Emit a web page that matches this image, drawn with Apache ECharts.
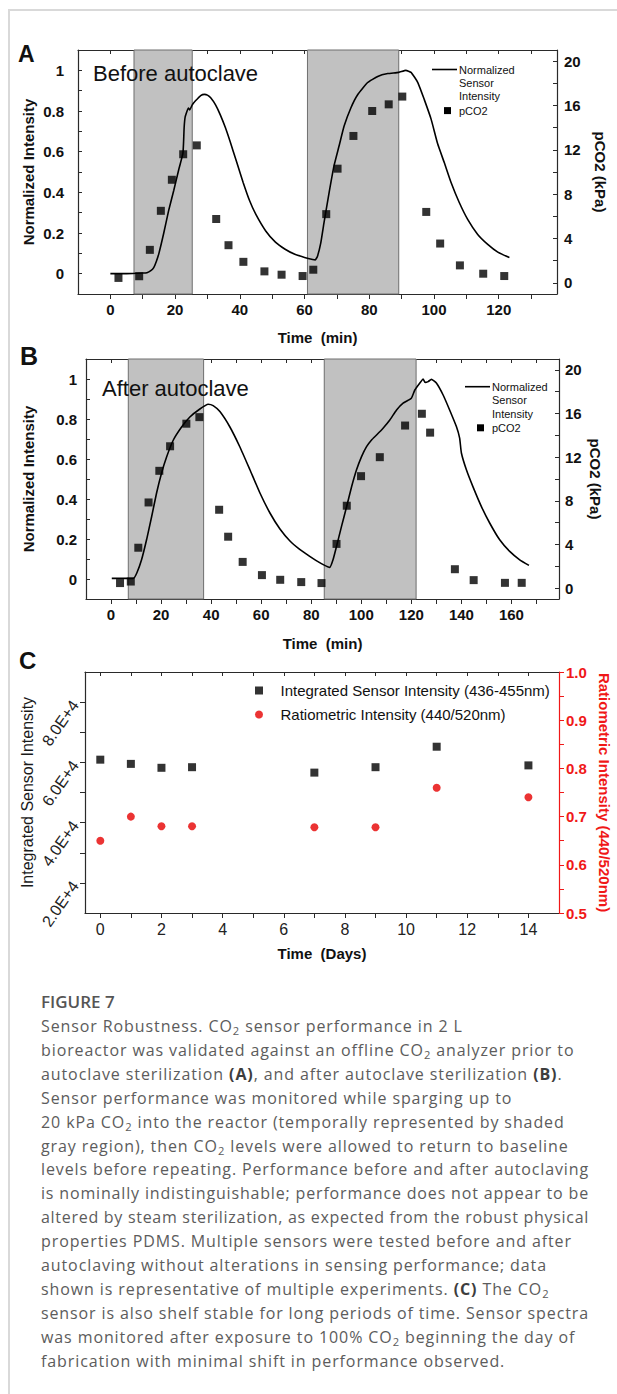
<!DOCTYPE html>
<html><head><meta charset="utf-8">
<script src="https://cdn.jsdelivr.net/npm/echarts@6/dist/echarts.min.js"></script>
<style>
html,body{margin:0;padding:0;background:#fff;}
body{width:617px;height:1394px;position:relative;overflow:hidden;}
#frameTop{position:absolute;left:8px;top:9px;width:609px;height:0;border-top:2px solid #d9d9d9;}
#frameLeft{position:absolute;left:8px;top:9px;width:0;height:1385px;border-left:2px solid #d9d9d9;}
#chart{position:absolute;left:0;top:0;width:617px;height:985px;}
#fig{position:absolute;left:41px;top:992px;font-family:'Open Sans';font-size:17px;font-weight:600;color:#555;line-height:20px;white-space:nowrap;}
#cap{position:absolute;left:41px;top:1015px;font-family:'Open Sans';font-size:16px;color:#5c5c5c;line-height:23.9px;}
#cap div{white-space:nowrap;display:block;}
#cap span.ln{display:inline-block;white-space:nowrap;}
sub{font-size:0.7em;vertical-align:-0.3em;line-height:0;}
b{color:#3d3d3d;font-weight:700;}
</style></head>
<body>
<div id="frameTop"></div><div id="frameLeft"></div>
<div id="chart"></div>
<div id="fig">FIGURE 7</div>
<div id="cap">
<div><span class="ln" data-w="437">Sensor Robustness. CO<sub>2</sub> sensor performance in 2 L</span></div>
<div><span class="ln" data-w="546">bioreactor was validated against an offline CO<sub>2</sub> analyzer prior to</span></div>
<div><span class="ln" data-w="522">autoclave sterilization <b>(A)</b>, and after autoclave sterilization <b>(B)</b>.</span></div>
<div><span class="ln" data-w="486">Sensor performance was monitored while sparging up to</span></div>
<div><span class="ln" data-w="541">20 kPa CO<sub>2</sub> into the reactor (temporally represented by shaded</span></div>
<div><span class="ln" data-w="546">gray region), then CO<sub>2</sub> levels were allowed to return to baseline</span></div>
<div><span class="ln" data-w="548">levels before repeating. Performance before and after autoclaving</span></div>
<div><span class="ln" data-w="548">is nominally indistinguishable; performance does not appear to be</span></div>
<div><span class="ln" data-w="548">altered by steam sterilization, as expected from the robust physical</span></div>
<div><span class="ln" data-w="539">properties PDMS. Multiple sensors were tested before and after</span></div>
<div><span class="ln" data-w="515">autoclaving without alterations in sensing performance; data</span></div>
<div><span class="ln" data-w="524">shown is representative of multiple experiments. <b>(C)</b> The CO<sub>2</sub></span></div>
<div><span class="ln" data-w="548">sensor is also shelf stable for long periods of time. Sensor spectra</span></div>
<div><span class="ln" data-w="548">was monitored after exposure to 100% CO<sub>2</sub> beginning the day of</span></div>
<div><span class="ln" data-w="471">fabrication with minimal shift in performance observed.</span></div>
</div>
<script>
// ---------- Panel A (before autoclave) ----------
const timeA_line = [0,5,10,11.3,12.5,13.4,14.2,15,16.5,18,19.6,21.1,22.4,22.6,22.8,23.1,23.7,24.1,24.5,25.3,26.3,27.9,29.1,30,31,32.5,34,35.5,37,39,41,43,45,48,51,54,57,60,62.5,63.3,64,65,66,67.6,69.1,70.7,72.2,74.3,76.4,79.5,82.6,85.7,89.1,91.3,92.9,95,97,99.1,101.1,103.2,105.3,107.8,110.4,113.5,116.6,119.7,123.3];
const intensityA = [0,0,0.003,0.005,0.015,0.03,0.06,0.10,0.20,0.31,0.41,0.51,0.59,0.64,0.72,0.77,0.80,0.815,0.805,0.83,0.85,0.876,0.882,0.878,0.865,0.83,0.78,0.72,0.65,0.55,0.45,0.36,0.29,0.21,0.155,0.12,0.095,0.08,0.07,0.068,0.086,0.15,0.25,0.40,0.53,0.63,0.725,0.815,0.88,0.94,0.97,0.984,0.99,1.0,0.99,0.94,0.856,0.76,0.64,0.545,0.447,0.35,0.267,0.193,0.144,0.106,0.079];
const timeA_pco2 = [2.5,8.9,12.2,15.6,19.0,22.5,26.7,32.7,36.5,41.1,47.6,52.9,59.4,62.7,66.7,70.2,75.1,80.9,86.0,90.2,97.6,101.9,108.0,115.2,121.7];
const pco2A = [0.45,0.6,2.98,6.5,9.3,11.6,12.4,5.76,3.4,1.9,1.04,0.74,0.62,1.19,6.2,10.3,13.25,15.5,16.1,16.8,6.4,3.55,1.58,0.83,0.62];
const spargeA = [[7.3,25.3],[60.9,89.1]];
const timeTicksA = [0,20,40,60,80,100,120];
const timeMinorA = [0,10,20,30,40,50,60,70,80,90,100,110,120,130];

// ---------- Panel B (after autoclave) ----------
const timeB_line = [0.3,5,8.9,10.3,12.2,14.2,16.2,18.2,20.2,22.2,24.9,28.2,31.5,35.5,38.8,40.8,43.5,47.5,51.5,55.5,59.5,63.5,67.5,71.5,75.4,79.4,82,84.8,87.4,88.7,90.1,92.1,94.1,96.1,98.1,100.1,102.1,104.1,106.1,108.7,111.4,114.1,116.7,120,121.4,123.4,124.7,125.5,126.7,128,130,132.7,135.3,138,139.3,140,142,144.6,148,151.3,155.3,159.3,163.3,167];
const intensityB = [0.003,0.003,0.003,0.03,0.096,0.196,0.31,0.43,0.53,0.61,0.695,0.76,0.81,0.85,0.874,0.867,0.837,0.76,0.66,0.546,0.43,0.33,0.25,0.19,0.148,0.113,0.092,0.072,0.058,0.096,0.163,0.263,0.36,0.46,0.546,0.612,0.662,0.695,0.72,0.754,0.795,0.845,0.879,0.904,0.945,0.98,1.0,0.983,0.987,0.998,0.98,0.92,0.845,0.762,0.704,0.63,0.546,0.462,0.362,0.28,0.196,0.138,0.096,0.068];
const timeB_pco2 = [3.6,7.9,10.9,15.0,19.3,23.6,30.1,35.3,43.2,46.8,52.6,60.3,67.6,76.0,84.1,90.1,94.2,99.9,107.4,117.5,124.2,127.5,137.4,144.9,157.4,164.1];
const pco2B = [0.46,0.6,3.7,7.85,10.75,13.0,15.07,15.67,7.18,4.71,2.4,1.19,0.76,0.55,0.46,4.05,7.55,10.26,12.0,14.9,15.98,14.25,1.73,0.73,0.48,0.48];
const spargeB = [[6.9,37.0],[85.2,121.9]];
const timeTicksB = [0,20,40,60,80,100,120,140,160];
const timeMinorB = [0,10,20,30,40,50,60,70,80,90,100,110,120,130,140,150,160,170];

// shared tick labels for A/B
const intensityTicks = [0,0.2,0.4,0.6,0.8,1];
const intensityMinor = [0,0.1,0.2,0.3,0.4,0.5,0.6,0.7,0.8,0.9,1.0];
const pco2Ticks = [0,4,8,12,16,20];
const pco2Minor = [0,2,4,6,8,10,12,14,16,18,20];

// ---------- Panel C (shelf stability) ----------
const daysC = [0,1,2,3,7,9,11,14];
const integratedC = [60900,59500,58200,58400,56600,58400,65200,59000];
const ratioC = [0.65,0.70,0.68,0.68,0.678,0.678,0.76,0.74];
const dayTicks = [0,2,4,6,8,10,12,14];
const dayMinor = [0,1,2,3,4,5,6,7,8,9,10,11,12,13,14];
const integratedTicks = [20000,40000,60000,80000];
const integratedMinor = [20000,30000,40000,50000,60000,70000,80000];
const ratioTicks = [0.5,0.6,0.7,0.8,0.9,1.0];
const ratioMinor = [0.5,0.55,0.6,0.65,0.7,0.75,0.8,0.85,0.9,0.95,1.0];

const FF = 'Liberation Sans, Arial, sans-serif';
const INK = '#111';
const AX = '#2a2a2a';

function pairs(xs, ys){ return xs.map((x,i)=>[x, ys[i]]); }

function xAxisPair(grid, min, max, labels, ticks, name, nameGap, lblStyle){
  return [{
    gridIndex: grid, type: 'value', min: min, max: max, position: 'bottom',
    axisLine: {show: true, onZero: false, lineStyle: {color: AX, width: 1.2}},
    axisTick: {show: true, inside: false, length: 5, customValues: ticks, lineStyle: {color: AX, width: 1}},
    axisLabel: Object.assign({customValues: labels, fontFamily: FF, color: INK, margin: 8}, lblStyle),
    splitLine: {show: false},
    name: name, nameLocation: 'middle', nameGap: nameGap,
    nameTextStyle: {fontFamily: FF, fontSize: 15, fontWeight: 'bold', color: INK}
  },{
    gridIndex: grid, type: 'value', min: min, max: max, position: 'top',
    axisLine: {show: true, onZero: false, lineStyle: {color: AX, width: 1.2}},
    axisTick: {show: true, inside: true, length: 4, customValues: ticks, lineStyle: {color: AX, width: 1}},
    axisLabel: {show: false}, splitLine: {show: false}
  }];
}

function yAxisDef(grid, pos, min, max, labels, ticks, name, nameGap, o){
  o = o || {};
  const color = o.color || AX;
  return {
    gridIndex: grid, type: 'value', min: min, max: max, position: pos,
    axisLine: {show: true, onZero: false, lineStyle: {color: color, width: 1.2}},
    axisTick: {show: true, inside: !!o.inside, length: o.tickLen || 5, customValues: ticks, lineStyle: {color: color, width: 1}},
    axisLabel: Object.assign({customValues: labels, fontFamily: FF, color: o.labelColor || INK, fontSize: 15, fontWeight: 'bold', margin: o.margin || 8}, o.label || {}),
    splitLine: {show: false},
    name: name, nameLocation: 'middle', nameGap: nameGap, nameRotate: o.nameRotate,
    nameMoveOverlap: false,
    nameTextStyle: Object.assign({fontFamily: FF, fontSize: 15, fontWeight: 'bold', color: o.labelColor || INK}, o.nameStyle || {})
  };
}

const fmtInt = v => (v === 0 ? '0' : (v === 1 ? '1' : v.toFixed(1)));
const boldLbl = {fontSize: 15, fontWeight: 'bold'};

const xAxes = [].concat(
  xAxisPair(0, -10, 138, timeTicksA, timeMinorA, 'Time  (min)', 36, boldLbl),
  xAxisPair(1, -10, 179, timeTicksB, timeMinorB, 'Time  (min)', 37, boldLbl),
  xAxisPair(2, -0.5, 15, dayTicks, dayMinor, 'Time  (Days)', 33, {fontSize: 16, fontWeight: 'normal', color: '#222'})
);
// indices: A bottom 0, A top 1, B bottom 2, B top 3, C bottom 4, C top 5

const yAxes = [
  yAxisDef(0, 'left', -0.1, 1.1, intensityTicks, intensityMinor, 'Normalized Intensity', 42, {inside: true, tickLen: 4, margin: 14, label: {formatter: fmtInt}}),
  yAxisDef(0, 'right', -1, 21, pco2Ticks, pco2Minor, 'pCO2 (kPa)', 36, {inside: true, tickLen: 4, margin: 7, nameRotate: -90}),
  yAxisDef(1, 'left', -0.1, 1.1, intensityTicks, intensityMinor, 'Normalized Intensity', 50, {inside: true, tickLen: 4, margin: 9, label: {formatter: fmtInt}}),
  yAxisDef(1, 'right', -1, 21, pco2Ticks, pco2Minor, 'pCO2 (kPa)', 29, {inside: true, tickLen: 4, margin: 6, nameRotate: -90}),
  yAxisDef(2, 'left', 10000, 90000, integratedTicks, integratedMinor, 'Integrated Sensor Intensity', 50,
    {margin: 10, label: {rotate: 55, fontSize: 16, fontWeight: 'normal', color: '#222', formatter: v => (v/10000).toFixed(1) + 'E+4'},
     nameStyle: {fontSize: 16, fontWeight: 'normal', color: '#1a1a1a'}}),
  yAxisDef(2, 'right', 0.5, 1.0, ratioTicks, ratioMinor, 'Ratiometric Intensity (440/520nm)', 38,
    {color: '#f01818', labelColor: '#f01818', margin: 7, nameRotate: -90, label: {formatter: v => v.toFixed(1)}})
];

function shadeSeries(xIdx, yIdx, data, ranges){
  return {
    name: 'Normalized Sensor Intensity', type: 'line', xAxisIndex: xIdx, yAxisIndex: yIdx,
    data: data, showSymbol: false, symbol: 'none', smooth: 0.15,
    lineStyle: {color: '#000', width: 1.6}, itemStyle: {color: '#000'},
    z: 3, silent: true, animation: false,
    markArea: {
      silent: true,
      itemStyle: {color: '#c1c1c1', borderColor: '#6e6e6e', borderWidth: 1},
      data: ranges.map(r => [{xAxis: r[0]}, {xAxis: r[1]}])
    }
  };
}

const series = [
  shadeSeries(0, 0, pairs(timeA_line, intensityA), spargeA),
  {name: 'pCO2', type: 'scatter', xAxisIndex: 0, yAxisIndex: 1, data: pairs(timeA_pco2, pco2A),
   symbol: 'rect', symbolSize: 8, itemStyle: {color: '#000'}, z: 4, animation: false},
  shadeSeries(2, 2, pairs(timeB_line, intensityB), spargeB),
  {name: 'pCO2', type: 'scatter', xAxisIndex: 2, yAxisIndex: 3, data: pairs(timeB_pco2, pco2B),
   symbol: 'rect', symbolSize: 8, itemStyle: {color: '#000'}, z: 4, animation: false},
  {name: 'Integrated Sensor Intensity (436-455nm)', type: 'scatter', xAxisIndex: 4, yAxisIndex: 4,
   data: pairs(daysC, integratedC), symbol: 'rect', symbolSize: 8, itemStyle: {color: '#000'}, z: 4, animation: false},
  {name: 'Ratiometric Intensity (440/520nm)', type: 'scatter', xAxisIndex: 4, yAxisIndex: 5,
   data: pairs(daysC, ratioC), symbol: 'circle', symbolSize: 8, itemStyle: {color: '#e60000'}, z: 4, animation: false}
];

function txt(x, y, s, font, extra){
  return Object.assign({type: 'text', x: x, y: y, silent: true, z: 50,
    style: {text: s, font: font, fill: INK, align: 'left', verticalAlign: 'middle', textAlign: 'left', textVerticalAlign: 'middle'}}, extra || {});
}
const legFont = '11px ' + FF;
function miniLegend(x0, y0){
  return [
    {type: 'line', silent: true, z: 50, shape: {x1: x0, y1: y0, x2: x0 + 25, y2: y0}, style: {stroke: '#000', lineWidth: 1.6}},
    txt(x0 + 27, y0, 'Normalized', legFont),
    txt(x0 + 27, y0 + 13.4, 'Sensor', legFont),
    txt(x0 + 27, y0 + 26.8, 'Intensity', legFont),
    {type: 'rect', silent: true, z: 50, shape: {x: x0 + 12, y: y0 + 37.6, width: 7, height: 7}, style: {fill: '#000'}},
    txt(x0 + 27, y0 + 41.2, 'pCO2', legFont)
  ];
}

const graphics = [
  txt(18, 54, 'A', 'bold 23px ' + FF),
  txt(20, 356, 'B', 'bold 25px ' + FF),
  txt(19, 660, 'C', 'bold 24px ' + FF),
  txt(93, 73, 'Before autoclave', '22px ' + FF),
  txt(102, 388, 'After autoclave', '22px ' + FF)
].concat(miniLegend(432, 69.5), miniLegend(465, 386.7));

const chart = echarts.init(document.getElementById('chart'), null, {renderer: 'svg'});
chart.setOption({
  animation: false,
  backgroundColor: 'transparent',
  textStyle: {fontFamily: FF},
  grid: [
    {left: 78, top: 50, width: 479, height: 244, outerBoundsMode: 'none'},
    {left: 86, top: 359, width: 473, height: 240, outerBoundsMode: 'none'},
    {left: 85, top: 672, width: 474, height: 241, outerBoundsMode: 'none'}
  ],
  xAxis: xAxes,
  yAxis: yAxes,
  legend: {
    data: [
      {name: 'Integrated Sensor Intensity (436-455nm)', icon: 'rect'},
      {name: 'Ratiometric Intensity (440/520nm)', icon: 'circle'}
    ],
    orient: 'vertical', left: 250, top: 678, itemGap: 9, itemWidth: 8, itemHeight: 8,
    formatter: n => '   ' + n,
    selectedMode: false, textStyle: {fontFamily: FF, fontSize: 15, color: INK}
  },
  graphic: graphics,
  series: series
});

// caption: fit each line to its measured width in the reference
document.querySelectorAll('#cap span.ln').forEach(el => {
  const target = parseFloat(el.getAttribute('data-w'));
  const w = el.getBoundingClientRect().width;
  const n = el.textContent.length;
  let ls = (target - w) / n;
  ls = Math.max(-0.9, Math.min(0.9, ls));
  el.style.letterSpacing = ls.toFixed(3) + 'px';
});
</script>
</body></html>
